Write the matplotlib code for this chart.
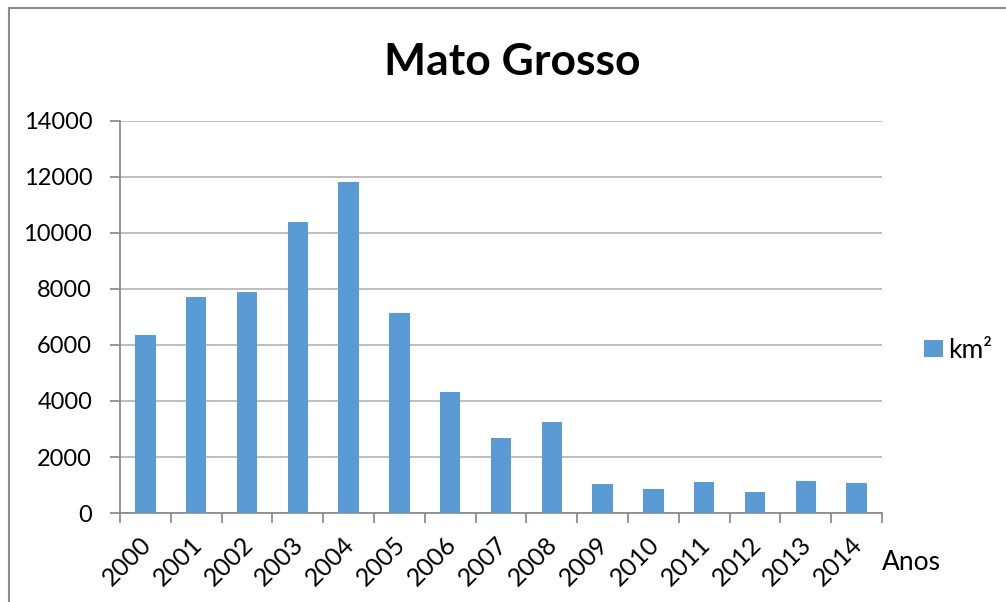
import matplotlib.pyplot as plt
import matplotlib.transforms as mtransforms
from matplotlib.patches import Rectangle

anos = ["2000", "2001", "2002", "2003", "2004", "2005", "2006", "2007",
        "2008", "2009", "2010", "2011", "2012", "2013", "2014"]
km2 = [6369, 7703, 7892, 10405, 11814, 7145, 4333, 2678,
       3258, 1049, 871, 1120, 757, 1139, 1075]
y_ticks = [0, 2000, 4000, 6000, 8000, 10000, 12000, 14000]

plt.rcParams['font.family'] = ['Lato', 'DejaVu Sans']

fig = plt.figure(figsize=(10.06, 6.02), dpi=100)
ax = fig.add_axes([120 / 1006, 1 - 513 / 602, 762 / 1006, 392 / 602])

x = list(range(len(anos)))
bars = ax.bar(x, km2, width=0.4, color='#5B9BD5', label='km²', zorder=3)

ax.set_xlim(-0.5, len(anos) - 0.5)
ax.set_ylim(0, 14000)
ax.set_yticks(y_ticks)
ax.set_yticklabels([str(v) for v in y_ticks], fontsize=17)
ax.yaxis.grid(True, color='#b3b3b3', linewidth=1.2, zorder=0)

# category boundaries carry the tick marks
ax.set_xticks([i - 0.5 for i in range(len(anos) + 1)], minor=False)
ax.set_xticklabels([])
ax.set_xticks(x, minor=True)
ax.set_xticklabels(anos, minor=True, rotation=45, ha='right', va='top',
                   rotation_mode='anchor', fontsize=18)
ax.tick_params(axis='x', which='major', length=7, color='#868686', width=1.2)
ax.tick_params(axis='x', which='minor', length=0, pad=14)
ax.tick_params(axis='y', length=7, color='#868686', width=1.2, pad=13)
shift = mtransforms.ScaledTranslation(-0.06, 0, fig.dpi_scale_trans)
for lbl in ax.get_xticklabels(minor=True):
    lbl.set_transform(lbl.get_transform() + shift)

for side in ['top', 'right']:
    ax.spines[side].set_visible(False)
for side in ['left', 'bottom']:
    ax.spines[side].set_color('#868686')
    ax.spines[side].set_linewidth(1.2)

fig.text(512 / 1006, 1 - 62 / 602, 'Mato Grosso', ha='center', va='center',
         fontsize=32, fontweight='bold')
fig.text(882 / 1006, 1 - 563 / 602, 'Anos', ha='left', va='center', fontsize=19)

leg = fig.legend(handles=[bars], labels=['km²'], loc='center left',
                 bbox_to_anchor=(924 / 1006, 1 - 350 / 602), frameon=False,
                 fontsize=19, handlelength=0.72, handleheight=0.6,
                 handletextpad=0.2, borderpad=0, borderaxespad=0)

# outer chart frame
fig.patches.append(Rectangle((9 / 1006, -0.05), 1.05, 1 - 8 / 602 + 0.05,
                             transform=fig.transFigure, fill=False,
                             edgecolor='#8c8c8c', linewidth=1.5))

fig.savefig('out.png', dpi=100)
